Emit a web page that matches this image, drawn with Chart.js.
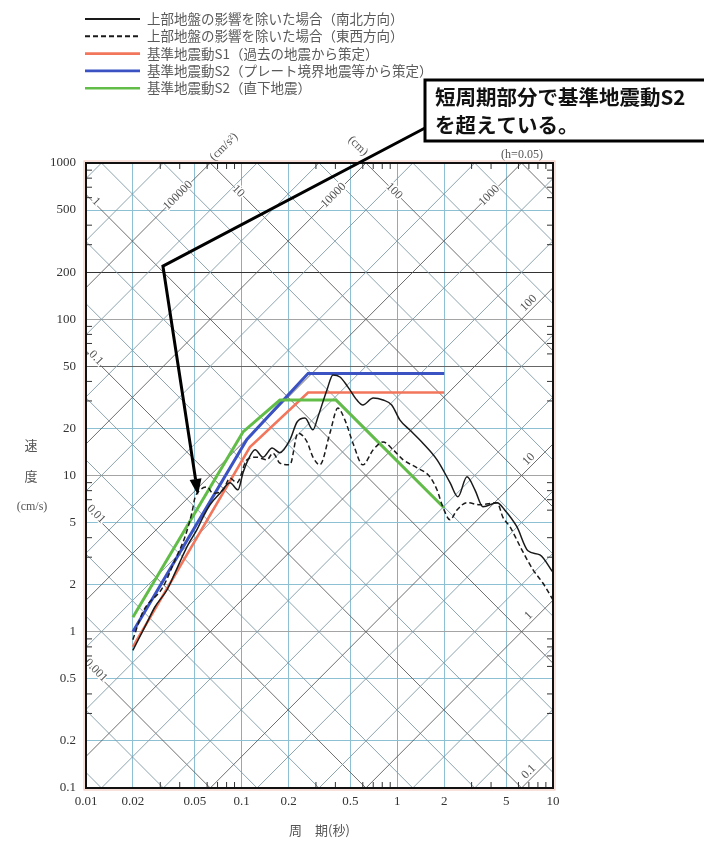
<!DOCTYPE html>
<html>
<head>
<meta charset="utf-8">
<script src="https://cdn.jsdelivr.net/npm/chart.js@4.4.1/dist/chart.umd.min.js"></script>
<style>
  html, body { margin: 0; padding: 0; background: #fff; }
  canvas { display: block; }
</style>
</head>
<body>
<canvas id="spectrum" width="704" height="844"></canvas>
<script>
// axis ticks
const periodTicks = [0.01, 0.02, 0.05, 0.1, 0.2, 0.5, 1, 2, 5, 10]
const velocityTicks = [0.1, 0.2, 0.5, 1, 2, 5, 10, 20, 50, 100, 200, 500, 1000]

// tripartite scale labels (cm and cm/s2)
const dispLeftLabels = [0.001, 0.01, 0.1, 1]
const dispTopLabels = [10, 100]
const accTopLabels = [100000, 10000, 1000]
const accRightLabels = [0.1, 1, 10, 100]

// observed spectra, upper ground removed (NS / EW)
const nsPeriod = [0.02, 0.0246, 0.0277, 0.0331, 0.0373, 0.0414, 0.0452, 0.0516, 0.0564, 0.0626, 0.0726, 0.0841, 0.0947, 0.102, 0.110, 0.122, 0.137, 0.157, 0.176, 0.204, 0.227, 0.255, 0.287, 0.309, 0.353, 0.386, 0.428, 0.482, 0.55, 0.60, 0.70, 0.81, 0.92, 1.04, 1.20, 1.46, 1.80, 2.18, 2.45, 2.80, 3.15, 3.55, 4.37, 4.91, 5.86, 6.9, 8.24, 10]
const nsVelocity = [0.76, 1.14, 1.44, 1.85, 2.38, 3.0, 3.6, 4.5, 5.4, 6.5, 7.7, 9.0, 8.1, 10.4, 12.6, 14.6, 13.1, 15.0, 14.0, 16.9, 22.0, 23.3, 19.6, 23.7, 35.3, 44.0, 42.7, 36.8, 30.4, 28.3, 31.3, 30.4, 28.3, 22.6, 19.6, 16.1, 12.6, 9.0, 7.3, 9.8, 8.1, 6.3, 6.7, 6.0, 4.7, 3.3, 3.1, 2.4]

const ewPeriod = [0.02, 0.0232, 0.0312, 0.0373, 0.0432, 0.048, 0.0501, 0.054, 0.0599, 0.0654, 0.0759, 0.0841, 0.0933, 0.108, 0.125, 0.145, 0.159, 0.176, 0.204, 0.230, 0.263, 0.287, 0.318, 0.369, 0.415, 0.461, 0.519, 0.60, 0.70, 0.81, 0.94, 1.09, 1.34, 1.62, 1.80, 1.96, 2.18, 2.41, 2.8, 3.39, 4.37, 4.77, 5.29, 6.31, 7.43, 8.61, 10]
const ewVelocity = [0.89, 1.34, 1.93, 2.88, 4.04, 5.84, 7.2, 8.07, 8.44, 7.7, 8.07, 9.6, 9.0, 12.6, 13.1, 12.6, 13.9, 12.0, 11.7, 18.7, 16.4, 13.1, 11.7, 18.7, 27.0, 22.6, 16.1, 11.7, 14.6, 16.4, 14.6, 12.6, 11.2, 9.8, 8.07, 6.3, 5.2, 6.0, 6.7, 6.5, 6.7, 5.4, 4.7, 3.34, 2.5, 2.05, 1.6]

// design spectra
const s1Period = [0.02, 0.113, 0.267, 2.0]
const s1Velocity = [0.8, 15.2, 34, 34]
const s2PlatePeriod = [0.02, 0.108, 0.267, 2.0]
const s2PlateVelocity = [1.0, 17, 45, 45]
const s2LocalPeriod = [0.02, 0.102, 0.176, 0.403, 2.0]
const s2LocalVelocity = [1.24, 19, 30.4, 30.4, 6.2]

const legendTexts = [
  '上部地盤の影響を除いた場合（南北方向）',
  '上部地盤の影響を除いた場合（東西方向）',
  '基準地震動S1（過去の地震から策定）',
  '基準地震動S2（プレート境界地震等から策定）',
  '基準地震動S2（直下地震）'
]
const calloutLines = ['短周期部分で基準地震動S2', 'を超えている。']
// where the callout arrow bends and points (period, velocity)
const calloutElbow = { x: 0.0312, y: 219 }
const calloutTip = { x: 0.0524, y: 7.5 }

const toPoints = (xs, ys) => xs.map((x, i) => ({ x: x, y: ys[i] }))
const TWO_PI = 2 * Math.PI
const serif = "'Liberation Serif', 'DejaVu Serif', serif"
const cjk = "'Noto Sans CJK JP', 'Noto Sans', sans-serif"

// Diagonal grid, frame ticks and scale labels
const tripartite = {
  id: 'tripartite',
  beforeDatasetsDraw(chart) {
    const { ctx, chartArea: a, scales: { x, y } } = chart
    const px = (t, v) => [x.getPixelForValue(t), y.getPixelForValue(v)]
    ctx.save()
    ctx.beginPath()
    ctx.rect(a.left, a.top, a.right - a.left, a.bottom - a.top)
    ctx.clip()
    const seg = (v1, v2, color, w) => {
      const p1 = px(0.01, v1), p2 = px(10, v2)
      ctx.strokeStyle = color
      ctx.lineWidth = w
      ctx.beginPath()
      ctx.moveTo(p1[0], p1[1])
      ctx.lineTo(p2[0], p2[1])
      ctx.stroke()
    }
    for (let e = -5; e <= 4; e++) {
      for (const m of [1, 2, 5]) {
        const d = m * Math.pow(10, e)
        seg(TWO_PI * d / 0.01, TWO_PI * d / 10, m === 1 ? '#5e5e5e' : '#7f9aa6', 0.9)
      }
    }
    for (let e = -3; e <= 7; e++) {
      for (const m of [1, 2, 5]) {
        const acc = m * Math.pow(10, e)
        seg(acc * 0.01 / TWO_PI, acc * 10 / TWO_PI, m === 1 ? '#5e5e5e' : '#7f9aa6', 0.9)
      }
    }
    ctx.restore()

    // minor ticks on the frame
    ctx.save()
    ctx.strokeStyle = '#333'
    ctx.lineWidth = 1
    ctx.beginPath()
    for (let e = -2; e <= 0; e++) {
      for (const m of [3, 4, 6, 7, 8, 9]) {
        const xp = x.getPixelForValue(m * Math.pow(10, e))
        ctx.moveTo(xp, a.bottom); ctx.lineTo(xp, a.bottom - 6)
        ctx.moveTo(xp, a.top); ctx.lineTo(xp, a.top + 6)
      }
    }
    for (let e = -1; e <= 2; e++) {
      for (const m of [3, 4, 6, 7, 8, 9]) {
        const yp = y.getPixelForValue(m * Math.pow(10, e))
        ctx.moveTo(a.left, yp); ctx.lineTo(a.left + 6, yp)
        ctx.moveTo(a.right, yp); ctx.lineTo(a.right - 6, yp)
      }
    }
    ctx.stroke()
    ctx.restore()

    // rotated labels along the diagonals
    const label = (text, t, v, angle, dx, dy) => {
      const p = px(t, v)
      ctx.save()
      ctx.translate(p[0] + dx, p[1] + dy)
      ctx.rotate(angle)
      ctx.font = '12px ' + serif
      ctx.textAlign = 'center'
      ctx.textBaseline = 'middle'
      ctx.lineWidth = 3
      ctx.strokeStyle = '#fff'
      ctx.strokeText(text, 0, 0)
      ctx.fillStyle = '#555'
      ctx.fillText(text, 0, 0)
      ctx.restore()
    }
    dispLeftLabels.forEach(d => label(String(d), 0.0116, TWO_PI * d / 0.0116, Math.PI / 4, 0, -3))
    dispTopLabels.forEach(d => label(String(d), TWO_PI * d / 660, 660, Math.PI / 4, 0, 0))
    accTopLabels.forEach(acc => label(String(acc), TWO_PI * 620 / acc, 620, -Math.PI / 4, 0, 0))
    accRightLabels.forEach(acc => label(String(acc), 7.3, acc * 7.3 / TWO_PI, -Math.PI / 4, -3, -6))
  },
  afterDatasetsDraw(chart) {
    const { ctx, chartArea: a } = chart
    ctx.save()
    ctx.strokeStyle = 'rgba(225,120,90,0.45)'
    ctx.lineWidth = 1
    ctx.strokeRect(a.left - 2, a.top - 2, a.right - a.left + 4, a.bottom - a.top + 4)
    ctx.strokeStyle = '#111'
    ctx.lineWidth = 2
    ctx.strokeRect(a.left, a.top, a.right - a.left, a.bottom - a.top)
    ctx.restore()
  }
}

// Legend, y title, unit notes and callout
const decorations = {
  id: 'decorations',
  afterDraw(chart) {
    const { ctx, chartArea: a, scales: { x, y } } = chart
    ctx.save()
    // legend
    chart.data.datasets.forEach((ds, i) => {
      const ly = 19 + i * 17.3
      ctx.strokeStyle = ds.borderColor
      ctx.lineWidth = Math.max(2, Math.min(ds.borderWidth, 2.6))
      ctx.setLineDash(ds.borderDash || [])
      ctx.beginPath()
      ctx.moveTo(a.left - 1, ly)
      ctx.lineTo(a.left + 54, ly)
      ctx.stroke()
      ctx.setLineDash([])
      ctx.fillStyle = '#5a5a5a'
      ctx.font = '13.5px ' + cjk
      ctx.textAlign = 'left'
      ctx.textBaseline = 'middle'
      ctx.fillText(ds.label, a.left + 61, ly)
    })

    // y-axis title
    ctx.fillStyle = '#555'
    ctx.font = '13px ' + cjk
    ctx.textAlign = 'center'
    ctx.textBaseline = 'middle'
    ctx.fillText('速', 31, 445)
    ctx.fillText('度', 31, 476)
    ctx.font = '12px ' + serif
    ctx.fillText('(cm/s)', 32, 507)

    // unit notes above the frame
    const note = (text, px, py, angle) => {
      ctx.save()
      ctx.translate(px, py)
      ctx.rotate(angle)
      ctx.font = '12px ' + serif
      ctx.fillStyle = '#555'
      ctx.textAlign = 'center'
      ctx.textBaseline = 'middle'
      ctx.fillText(text, 0, 0)
      ctx.restore()
    }
    note('(cm/s²)', a.left + 138, a.top - 16, -Math.PI / 4)
    note('(cm)', a.left + 272, a.top - 17, Math.PI / 4)
    note('(h=0.05)', a.left + 436, a.top - 8, 0)

    // callout pointer
    const elbow = [x.getPixelForValue(calloutElbow.x), y.getPixelForValue(calloutElbow.y)]
    const tip = [x.getPixelForValue(calloutTip.x), y.getPixelForValue(calloutTip.y)]
    const boxX = 425, boxY = 80
    ctx.strokeStyle = '#000'
    ctx.lineWidth = 3
    ctx.lineJoin = 'miter'
    const ang = Math.atan2(tip[1] - elbow[1], tip[0] - elbow[0])
    const headLen = 16
    const baseX = tip[0] - headLen * Math.cos(ang), baseY = tip[1] - headLen * Math.sin(ang)
    ctx.beginPath()
    ctx.moveTo(boxX, boxY + 48)
    ctx.lineTo(elbow[0], elbow[1])
    ctx.lineTo(baseX, baseY)
    ctx.stroke()
    ctx.fillStyle = '#000'
    ctx.beginPath()
    ctx.moveTo(tip[0], tip[1])
    ctx.lineTo(baseX + 6 * Math.sin(ang), baseY - 6 * Math.cos(ang))
    ctx.lineTo(baseX - 6 * Math.sin(ang), baseY + 6 * Math.cos(ang))
    ctx.closePath()
    ctx.fill()

    // callout box
    ctx.fillStyle = '#fff'
    ctx.fillRect(boxX, boxY, 300, 61)
    ctx.lineWidth = 3
    ctx.strokeRect(boxX, boxY, 300, 61)
    ctx.fillStyle = '#111'
    ctx.font = 'bold 20.5px ' + cjk
    ctx.textAlign = 'left'
    ctx.textBaseline = 'middle'
    ctx.fillText(calloutLines[0], boxX + 10, boxY + 17)
    ctx.fillText(calloutLines[1], boxX + 10, boxY + 45)
    ctx.restore()
  }
}

const gridColor = (v, decade) => {
  if (v === 200) return '#333'
  if (v === 50) return '#666'
  if (decade) return '#a4a4a4'
  return '#8cc0d2'
}
const isDecade = v => Math.abs(Math.log10(v) - Math.round(Math.log10(v))) < 1e-6

new Chart(document.getElementById('spectrum'), {
  type: 'line',
  data: {
    datasets: [
      { label: legendTexts[0], data: toPoints(nsPeriod, nsVelocity), borderColor: '#1a1a1a', borderWidth: 1.5, cubicInterpolationMode: 'monotone', order: 1 },
      { label: legendTexts[1], data: toPoints(ewPeriod, ewVelocity), borderColor: '#1a1a1a', borderWidth: 1.5, borderDash: [5, 3], cubicInterpolationMode: 'monotone', order: 2 },
      { label: legendTexts[2], data: toPoints(s1Period, s1Velocity), borderColor: '#f2765b', borderWidth: 2.6, order: 5 },
      { label: legendTexts[3], data: toPoints(s2PlatePeriod, s2PlateVelocity), borderColor: '#3a52c2', borderWidth: 3, order: 4 },
      { label: legendTexts[4], data: toPoints(s2LocalPeriod, s2LocalVelocity), borderColor: '#62bd48', borderWidth: 3, order: 3 }
    ]
  },
  options: {
    responsive: false,
    animation: false,
    layout: { padding: { left: 26, right: 151, top: 163, bottom: 4 } },
    elements: { point: { radius: 0 }, line: { fill: false } },
    plugins: { legend: { display: false }, tooltip: { enabled: false } },
    scales: {
      x: {
        type: 'logarithmic',
        min: 0.01,
        max: 10,
        afterBuildTicks: s => { s.ticks = periodTicks.map(v => ({ value: v })) },
        afterFit: s => { s.height = 52; s.paddingLeft = 0; s.paddingRight = 0 },
        border: { display: false },
        grid: {
          drawTicks: false,
          color: c => gridColor(c.tick.value, isDecade(c.tick.value)),
          lineWidth: 1
        },
        ticks: {
          autoSkip: false,
          maxRotation: 0,
          padding: 6,
          color: '#333',
          font: { family: serif, size: 13 },
          callback: v => String(v)
        },
        title: {
          display: true,
          text: '周　期(秒)',
          color: '#555',
          font: { family: cjk, size: 13 },
          padding: { top: 4, bottom: 2 }
        }
      },
      y: {
        type: 'logarithmic',
        min: 0.1,
        max: 1000,
        afterBuildTicks: s => { s.ticks = velocityTicks.map(v => ({ value: v })) },
        afterFit: s => { s.width = 60; s.paddingTop = 0; s.paddingBottom = 0 },
        border: { display: false },
        grid: {
          drawTicks: false,
          color: c => gridColor(c.tick.value, isDecade(c.tick.value)),
          lineWidth: 1
        },
        ticks: {
          autoSkip: false,
          padding: 10,
          color: '#333',
          font: { family: serif, size: 13 },
          callback: v => String(v)
        }
      }
    }
  },
  plugins: [tripartite, decorations]
})
</script>
</body>
</html>
